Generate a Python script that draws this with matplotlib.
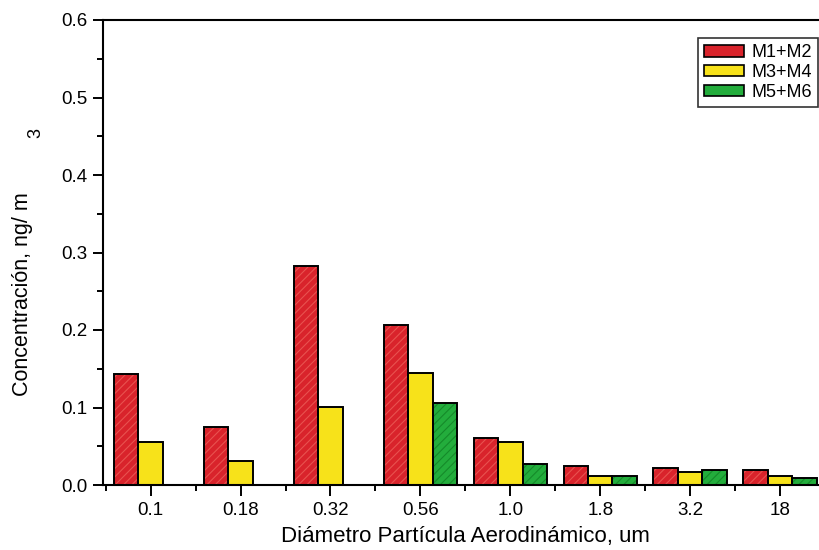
import numpy as np
import matplotlib.pyplot as plt
from matplotlib.patches import Patch

plt.rcParams['font.family'] = ['Liberation Sans', 'DejaVu Sans']
plt.rcParams['hatch.linewidth'] = 0.8

sizes = ["0.1", "0.18", "0.32", "0.56", "1.0", "1.8", "3.2", "18"]
m1m2 = [0.143, 0.075, 0.283, 0.207, 0.061, 0.024, 0.022, 0.019]
m3m4 = [0.056, 0.031, 0.101, 0.145, 0.056, 0.012, 0.017, 0.011]
m5m6 = [0.0, 0.0, 0.0, 0.106, 0.027, 0.011, 0.020, 0.009]

# name, values, fill colour, streak colour
series = [("M1+M2", m1m2, "#d9232b", "#e8524f"),
          ("M3+M4", m3m4, "#f7e21a", "#f7e21a"),
          ("M5+M6", m5m6, "#23ad3c", "#158a2a")]

fig = plt.figure(figsize=(8.2, 5.5), dpi=100)
# axes runs a little past the right edge, like the cropped scan
ax = fig.add_axes([103 / 820, 65 / 550, 722 / 820, 465 / 550])

x = np.arange(len(sizes))
w = 0.272
for i, (name, vals, col, streak) in enumerate(series):
    vals = np.array(vals)
    pos = x + (i - 1) * w
    keep = vals > 0
    ax.bar(pos[keep], vals[keep], width=w, color=col, edgecolor=streak,
           hatch="////", linewidth=0, zorder=2)
    ax.bar(pos[keep], vals[keep], width=w, fill=False, edgecolor="black",
           linewidth=1.4, zorder=3)

ax.set_xlim(-0.53, 7.5)
ax.set_ylim(0, 0.6)
ax.set_xticks(x)
ax.set_xticklabels(sizes)
ax.set_xticks(np.append(x - 0.5, 7.5), minor=True)
ax.set_yticks(np.arange(0, 0.61, 0.1))
ax.set_yticklabels(["%.1f" % v for v in np.arange(0, 0.61, 0.1)])
ax.set_yticks(np.arange(0.05, 0.6, 0.1), minor=True)

ax.tick_params(axis="both", which="major", direction="out", length=7, width=1.4,
               labelsize=13.5, pad=4)
ax.tick_params(axis="x", which="major", length=8)
ax.tick_params(axis="both", which="minor", direction="out", length=4, width=1.4)
for s in ax.spines.values():
    s.set_linewidth(1.5)
ax.spines["right"].set_visible(False)

ax.set_xlabel("Diámetro Partícula Aerodinámico, um", fontsize=16)
ax.xaxis.set_label_coords((465 - 103) / 722, -0.088)
ax.set_ylabel("Concentración, ng/ m", fontsize=15.5)
ax.yaxis.set_label_coords(-0.097, 0.41)
fig.text(36 / 820, 1 - 133 / 550, "3", rotation=90, fontsize=13,
         ha="center", va="center")

handles = [Patch(facecolor=c, edgecolor="black", linewidth=1.2) for _, _, c, _ in series]
leg = ax.legend(handles, [s[0] for s in series], loc="upper right",
                bbox_to_anchor=((818 - 103) / 722, 1 - 18 / 465),
                fontsize=13, frameon=True, fancybox=False, edgecolor="black",
                handlelength=2.2, handleheight=0.6, handletextpad=0.4,
                borderpad=0.35, labelspacing=0.15, borderaxespad=0)
leg.get_frame().set_linewidth(1.2)

fig.savefig("out.png", dpi=100)
